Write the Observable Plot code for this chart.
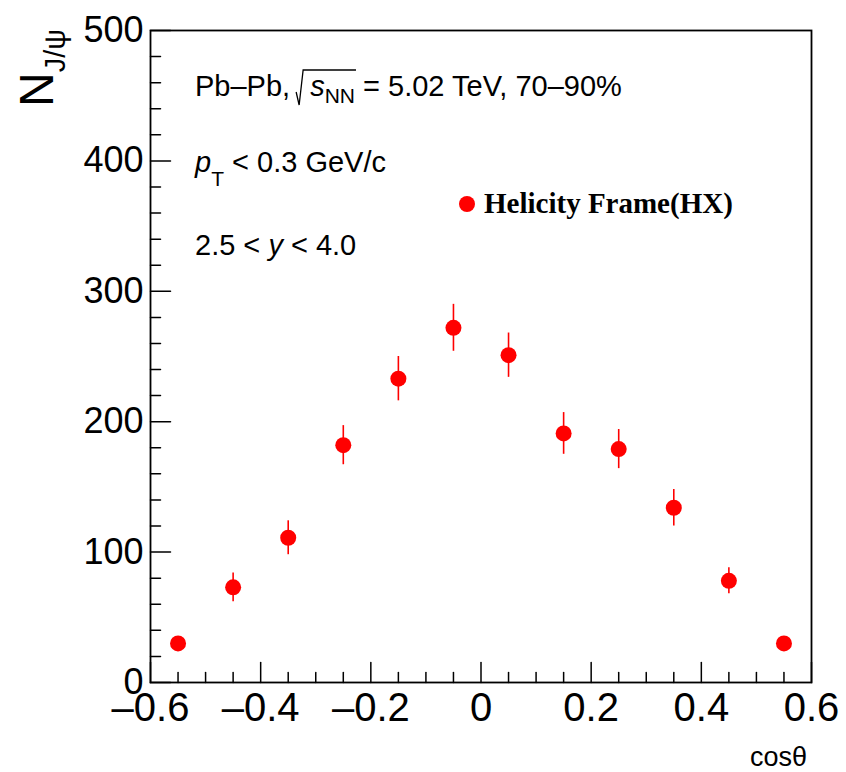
<!DOCTYPE html>
<html><head><meta charset="utf-8">
<script src="https://cdn.jsdelivr.net/npm/d3@7"></script>
<script src="https://cdn.jsdelivr.net/npm/@observablehq/plot@0.6"></script>
<style>
body{margin:0;background:#fff;}
#chart svg{font-family:"Liberation Sans",Arial,Helvetica,sans-serif;}
</style>
</head><body><div id="chart"></div>
<script>
// ---- data ----
const cosTheta = [-0.55,-0.45,-0.35,-0.25,-0.15,-0.05,0.05,0.15,0.25,0.35,0.45,0.55];
const nJpsi    = [30, 73, 111, 182, 233, 272, 251, 191, 179, 134, 78, 30];
const nErr     = [5, 11, 13, 15, 17, 18, 17, 16, 15, 14, 10, 5];
const yMajorTicks = [0,100,200,300,400,500];
const yMinorTicks = [20,40,60,80,120,140,160,180,220,240,260,280,320,340,360,380,420,440,460,480];
const xMajorTicks = [-0.6,-0.4,-0.2,0,0.2,0.4,0.6];
const xMinorTicks = [-0.55,-0.5,-0.45,-0.35,-0.3,-0.25,-0.15,-0.1,-0.05,0.05,0.1,0.15,0.25,0.3,0.35,0.45,0.5,0.55];
const xDomain = [-0.6, 0.6];
const yDomain = [0, 500];
const seriesName = "Helicity Frame(HX)";

const rows = cosTheta.map((c,i)=>({c, n:nJpsi[i], e:nErr[i]}));
const tickShape = {draw(context, l){ context.moveTo(0,0); context.lineTo(0,-l); }};
const red = "#ff0000";

const fig = Plot.plot({
  width: 846, height: 772,
  marginLeft: 150, marginRight: 35, marginTop: 30, marginBottom: 90,
  x: {domain: xDomain},
  y: {domain: yDomain},
  style: {fontFamily: '"Liberation Sans", Arial, sans-serif', background: "#fff"},
  marks: [
    Plot.frame({stroke: "black", strokeWidth: 1.8}),
    // inward ticks on the left axis
    Plot.vector(yMajorTicks, {x: () => xDomain[0], y: d => d, length: 20, rotate: 90, anchor: "start", shape: tickShape, stroke: "black", strokeWidth: 1.5}),
    Plot.vector(yMinorTicks, {x: () => xDomain[0], y: d => d, length: 10, rotate: 90, anchor: "start", shape: tickShape, stroke: "black", strokeWidth: 1.5}),
    // inward ticks on the bottom axis
    Plot.vector(xMajorTicks, {x: d => d, y: () => yDomain[0], length: 20, rotate: 0, anchor: "start", shape: tickShape, stroke: "black", strokeWidth: 1.5}),
    Plot.vector(xMinorTicks, {x: d => d, y: () => yDomain[0], length: 10, rotate: 0, anchor: "start", shape: tickShape, stroke: "black", strokeWidth: 1.5}),
    Plot.axisY(yMajorTicks, {tickSize: 0, tickPadding: 7, fontSize: 36, label: null, fill: "black"}),
    Plot.axisX(xMajorTicks, {tickSize: 0, tickPadding: 10, fontSize: 40, label: null, fill: "black",
      tickFormat: d => d === 0 ? "0" : (d < 0 ? "\u2013" : "") + Math.abs(d).toFixed(1)}),
    // error bars and points
    Plot.ruleX(rows, {x: "c", y1: d => d.n - d.e, y2: d => d.n + d.e, stroke: red, strokeWidth: 1.6}),
    Plot.dot(rows, {x: "c", y: "n", r: 8, fill: red, stroke: null})
  ]
});
document.getElementById("chart").append(fig);
const svg = d3.select(fig);
const txt = () => svg.append("text").attr("text-anchor","start").attr("fill","black");

// Y axis title N_{J/psi}
const yt = txt().attr("transform","translate(53,107) rotate(-90)").attr("font-size",48);
yt.append("tspan").text("N");
yt.append("tspan").attr("font-size",29).attr("dy",12).text("J/ψ");

// X axis title
svg.append("text").attr("x",807).attr("y",766).attr("text-anchor","end")
  .attr("font-size",27).attr("fill","black").text("cosθ");

// Annotation line 1 with sqrt(s_NN)
const t1 = txt().attr("x",195).attr("y",96).attr("font-size",29);
t1.append("tspan").text("Pb–Pb,");
t1.append("tspan").attr("dx",20).attr("font-style","italic").text("s");
t1.append("tspan").attr("font-size",21).attr("dy",7).text("NN");
t1.append("tspan").attr("dy",-7).text(" = 5.02 TeV, 70–90%");
{
  const el = t1.node();
  const eComma = el.getExtentOfChar(5);
  const eN = el.getExtentOfChar(8);
  const x0 = eComma.x + eComma.width + 6;
  const x1 = eN.x + eN.width + 1;
  svg.append("path").attr("fill","none").attr("stroke","black").attr("stroke-width",1.3)
    .attr("d",`M${x0},92 L${x0+3},105 L${x0+7},70 L${x1},70`);
}
// Annotation line 2
const t2 = txt().attr("x",195).attr("y",172).attr("font-size",29);
t2.append("tspan").attr("font-style","italic").text("p");
t2.append("tspan").attr("font-size",21).attr("dy",14).text("T");
t2.append("tspan").attr("dy",-14).text(" < 0.3 GeV/c");
// Annotation line 3
const t3 = txt().attr("x",195).attr("y",255).attr("font-size",29);
t3.append("tspan").text("2.5 < ");
t3.append("tspan").attr("font-style","italic").text("y");
t3.append("tspan").text(" < 4.0");

// Legend
svg.append("circle").attr("cx",467).attr("cy",204).attr("r",8).attr("fill",red);
txt().attr("x",484).attr("y",213).attr("font-size",29).attr("font-weight","bold")
  .attr("font-family",'"Liberation Serif","Times New Roman",serif').text(seriesName);
</script>
</body></html>
